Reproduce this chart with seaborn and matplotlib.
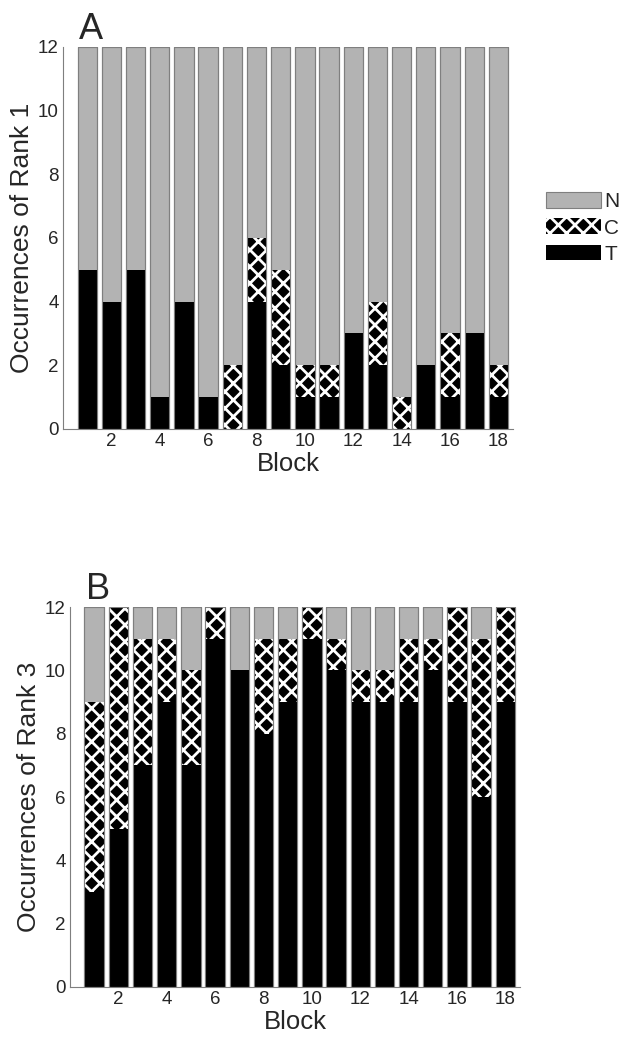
import matplotlib
matplotlib.use('Agg')
import matplotlib.pyplot as plt
import seaborn as sns
import numpy as np
from matplotlib.patches import Patch
from matplotlib.transforms import offset_copy

# data (counts per block, total 12)
blocks = np.arange(1, 19)
rank1_T = [5, 4, 5, 1, 4, 1, 0, 4, 2, 1, 1, 3, 2, 0, 2, 1, 3, 1]
rank1_C = [0, 0, 0, 0, 0, 0, 2, 2, 3, 1, 1, 0, 2, 1, 0, 2, 0, 1]
rank3_T = [3, 5, 7, 9, 7, 11, 10, 8, 9, 11, 10, 9, 9, 9, 10, 9, 6, 9]
rank3_C = [6, 7, 4, 2, 3, 1, 0, 3, 2, 1, 1, 1, 1, 2, 1, 3, 5, 3]
total = [12] * 18

sns.set_style('white')
plt.rcParams['font.family'] = ['Liberation Sans', 'DejaVu Sans']
plt.rcParams['hatch.linewidth'] = 2.0

GRAY = '#b3b3b3'
EDGE = '#7f7f7f'

fig = plt.figure(figsize=(6.27, 10.43), dpi=100)
ax_a = fig.add_axes([0.1005, 0.5887, 0.7175, 0.3663])
ax_b = fig.add_axes([0.1116, 0.0537, 0.7175, 0.3643])


def draw_panel(ax, t_vals, c_vals, rank, letter):
    tc = np.array(t_vals) + np.array(c_vals)
    # full stack (N on top), then T+C hatched, then T solid, then outlines
    sns.barplot(x=blocks, y=total, native_scale=True, color=GRAY, saturation=1,
                width=0.8, errorbar=None, edgecolor=EDGE, linewidth=0.8, ax=ax)
    sns.barplot(x=blocks, y=tc, native_scale=True, color='black', saturation=1,
                width=0.8, errorbar=None, edgecolor='white', linewidth=0,
                hatch='xx', ax=ax)
    sns.barplot(x=blocks, y=t_vals, native_scale=True, color='black', saturation=1,
                width=0.8, errorbar=None, linewidth=0, ax=ax)
    sns.barplot(x=blocks, y=total, native_scale=True, color=EDGE, saturation=1,
                width=0.8, errorbar=None, fill=False, linewidth=0.8, ax=ax)

    ax.set_xlim(0, 18.6)
    ax.set_ylim(0, 12)
    ax.set_xticks(range(2, 19, 2))
    ax.set_yticks(range(0, 13, 2))
    ax.tick_params(direction='in', length=4, width=0.8, color=EDGE,
                   labelsize=13.5, pad=3)
    sns.despine(ax=ax)
    for s in ['left', 'bottom']:
        ax.spines[s].set_color(EDGE)
        ax.spines[s].set_linewidth(0.8)
    ax.set_xlabel('Block', fontsize=18.5, labelpad=1)
    ax.set_ylabel(f'Occurrences of Rank {rank}', fontsize=19, labelpad=3)
    trans = offset_copy(ax.transAxes, fig=fig, x=16, y=0, units='dots')
    ax.text(0.0, 1.0, letter, transform=trans, fontsize=26,
            ha='left', va='bottom')


draw_panel(ax_a, rank1_T, rank1_C, 1, 'A')
draw_panel(ax_b, rank3_T, rank3_C, 3, 'B')

handles = [
    Patch(facecolor=GRAY, edgecolor=EDGE, linewidth=0.8),
    Patch(facecolor='black', edgecolor='white', hatch='xx', linewidth=0),
    Patch(facecolor='black', linewidth=0),
]
fig.legend(handles, ['N', 'C', 'T'], loc='center left',
           bbox_to_anchor=(546 / 627, 1 - 228 / 1043), frameon=False,
           fontsize=15, handlelength=2.64, handleheight=0.77,
           labelspacing=0.35, handletextpad=0.15, borderpad=0, borderaxespad=0)

fig.savefig('out.png', dpi=100)
